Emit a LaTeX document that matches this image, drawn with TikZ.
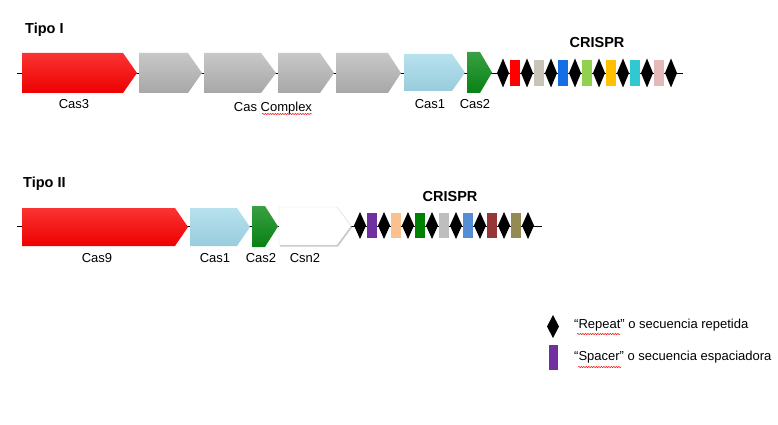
\documentclass[tikz,border=0pt]{standalone}
\usepackage{fontspec}
\setmainfont{Liberation Sans}
\usetikzlibrary{decorations.pathmorphing}
\definecolor{cred}{RGB}{250,0,0}
\definecolor{cgray}{RGB}{176,176,176}
\definecolor{cblue}{RGB}{160,215,232}
\definecolor{cgreen}{RGB}{8,136,20}
\definecolor{sA}{RGB}{255,0,0}
\definecolor{sB}{RGB}{200,196,184}
\definecolor{sC}{RGB}{20,110,230}
\definecolor{sD}{RGB}{146,208,80}
\definecolor{sE}{RGB}{255,192,0}
\definecolor{sF}{RGB}{50,200,210}
\definecolor{sG}{RGB}{230,185,185}
\definecolor{tA}{RGB}{112,48,160}
\definecolor{tB}{RGB}{250,192,144}
\definecolor{tC}{RGB}{0,128,0}
\definecolor{tD}{RGB}{190,190,190}
\definecolor{tE}{RGB}{85,142,213}
\definecolor{tF}{RGB}{150,55,53}
\definecolor{tG}{RGB}{148,138,84}
\newcommand\genearrow[6]{%
  \path[#1] (#2,#5) -- (#3,#5) -- (#4,{(#5+#6)/2}) -- (#3,#6) -- (#2,#6) -- cycle;}
\tikzset{
  redgene/.style={top color=cred!80!white, middle color=cred, bottom color=cred!95!black},
  graygene/.style={top color=cgray!70!white, middle color=cgray, bottom color=cgray!95!black},
  bluegene/.style={top color=cblue!75!white, middle color=cblue, bottom color=cblue!95!black},
  greengene/.style={top color=cgreen!80!white, middle color=cgreen, bottom color=cgreen!95!black},
  lbl/.style={font=\fontsize{13}{15}\selectfont, inner sep=0pt},
  ttl/.style={font=\fontsize{14.5}{17}\selectfont\bfseries, inner sep=0pt},
  squig/.style={red, line width=0.5pt, decorate, decoration={snake, amplitude=0.6pt, segment length=2.5pt}},
  dna/.style={line width=0.6pt, black}
}
\begin{document}
\begin{tikzpicture}[x=1pt,y=-1pt]
\useasboundingbox (0,0) rectangle (778,425);
% ---------- Tipo I ----------
\node[ttl, anchor=west] (t1) at (25,30) {Tipo I};
\coordinate (l1s) at (17,73);
\coordinate (l1e) at (683,73);
\draw[dna] (l1s) -- (l1e);
\genearrow{redgene}{22}{123}{137}{53}{93}
\genearrow{graygene}{139}{188}{202}{53}{93}
\genearrow{graygene}{204}{261}{276}{53}{93}
\genearrow{graygene}{278}{320}{334}{53}{93}
\genearrow{graygene}{336}{388}{401}{53}{93}
\genearrow{bluegene}{404}{452}{465}{54}{91}
\genearrow{greengene}{467}{480}{492}{52}{93}
\foreach \c [count=\k from 0] in {sA,sB,sC,sD,sE,sF,sG}{
  \fill[\c] ({515+24*\k-5},60) rectangle ({515+24*\k+5},86);
}
\foreach \k in {0,...,7}{
  \fill[black] ({503+24*\k},58.5) -- ({503+24*\k+6},73) -- ({503+24*\k},87.5) -- ({503+24*\k-6},73) -- cycle;
}
\node[ttl] (cr1) at (597,43) {CRISPR};
\node[lbl] (n3) at (74,104) {Cas3};
\node[lbl] (ncx) at (273,108) {Cas Complex};
\node[lbl] (n1a) at (430,104) {Cas1};
\node[lbl] (n2a) at (475,104) {Cas2};
\draw[squig] (262,114) -- (312,114);
% ---------- Tipo II ----------
\node[ttl, anchor=west] (t2) at (23,184) {Tipo II};
\coordinate (l2s) at (17,226);
\coordinate (l2e) at (542,226);
\draw[dna] (l2s) -- (l2e);
\genearrow{redgene}{22}{175}{188}{208}{246}
\genearrow{bluegene}{190}{237}{250}{208}{246}
\genearrow{greengene}{252}{265}{278}{206}{247}
\genearrow{fill=black!22, shift={(1,1.5)}}{279}{337}{351}{207}{245}
\genearrow{fill=white, draw=black!15, line width=0.4pt}{279}{337}{351}{207}{245}
\foreach \c [count=\k from 0] in {tA,tB,tC,tD,tE,tF,tG}{
  \fill[\c] ({372+24*\k-5},213) rectangle ({372+24*\k+5},238);
}
\foreach \k in {0,...,7}{
  \fill[black] ({360+24*\k},212) -- ({360+24*\k+6},225.5) -- ({360+24*\k},239) -- ({360+24*\k-6},225.5) -- cycle;
}
\node[ttl] (cr2) at (450,197) {CRISPR};
\node[lbl] (n9) at (97,258) {Cas9};
\node[lbl] (n1b) at (215,258) {Cas1};
\node[lbl] (n2b) at (261,258) {Cas2};
\node[lbl] (nsn) at (305,258) {Csn2};
% ---------- Legend ----------
\fill[black] (553,315) -- (559,326.5) -- (553,338) -- (547,326.5) -- cycle;
\fill[tA] (549,345) rectangle (558,370);
\node[lbl, anchor=west] (lg1) at (574,325) {“Repeat” o secuencia repetida};
\node[lbl, anchor=west] (lg2) at (574,357) {“Spacer” o secuencia espaciadora};
\draw[squig] (577,334) -- (620,334);
\draw[squig] (578,367) -- (621,367);
\end{tikzpicture}
\end{document}
